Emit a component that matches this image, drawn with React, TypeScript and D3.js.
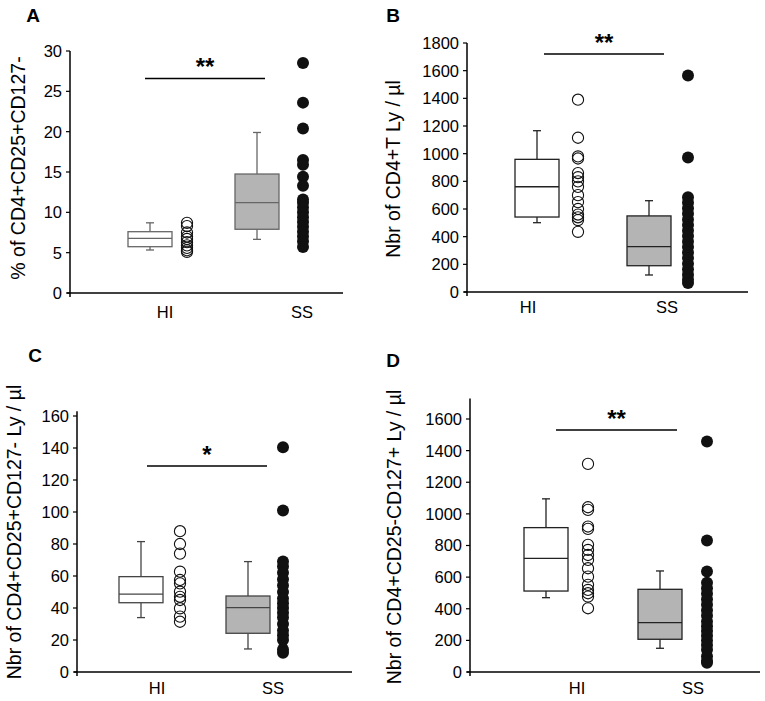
import React from "react";
import * as d3 from "d3";

const categories = ["HI", "SS"];

// Panel A: % of CD4+CD25+CD127-
const aTicks = [0, 5, 10, 15, 20, 25, 30];
const aHiDots = [8.7, 8.3, 7.5, 7.0, 6.7, 6.3, 5.9, 5.6, 5.3, 5.1];
const aSsDots = [28.5, 23.6, 20.4, 16.5, 15.9, 14.4, 13.3, 11.6, 11.2, 10.6, 10.0, 9.4, 8.8, 8.2, 7.6, 7.0, 6.4, 5.7];
const aHiBox = [5.33, 5.74, 6.78, 7.6, 8.7]; // low whisker, q1, median, q3, high whisker
const aSsBox = [6.65, 7.9, 11.2, 14.75, 19.9];
const aSig = { label: "**", level: 26.6 };

// Panel B: Nbr of CD4+T Ly / µl
const bTicks = [0, 200, 400, 600, 800, 1000, 1200, 1400, 1600, 1800];
const bHiDots = [1390, 1115, 980, 965, 860, 830, 800, 760, 700, 650, 600, 560, 540, 520, 435];
const bSsDots = [1565, 972, 685, 645, 605, 565, 525, 485, 445, 405, 365, 325, 285, 245, 205, 165, 125, 90, 65];
const bHiBox = [501, 542, 761, 959, 1166];
const bSsBox = [123, 190, 328, 550, 660];
const bSig = { label: "**", level: 1721 };

// Panel C: Nbr of CD4+CD25+CD127- Ly / µl
const cTicks = [0, 20, 40, 60, 80, 100, 120, 140, 160];
const cHiDots = [88, 80, 74, 62.7, 57.5, 55.4, 50.2, 47, 45, 39.8, 34.6, 31.4];
const cSsDots = [140.5, 101, 69, 66, 62, 58, 54, 50, 46, 43, 40, 37, 34, 30, 26, 23, 20, 14, 12];
const cHiBox = [34, 43.3, 48.7, 59.6, 81.5];
const cSsBox = [14.4, 24.2, 40.2, 47.5, 69];
const cSig = { label: "*", level: 128.7 };

// Panel D: Nbr of CD4+CD25-CD127+ Ly / µl
const dTicks = [0, 200, 400, 600, 800, 1000, 1200, 1400, 1600];
const dHiDots = [1316, 1042, 1025, 920, 905, 804, 772, 740, 709, 656, 603, 551, 519, 498, 477, 403];
const dSsDots = [1458, 831, 635, 565, 530, 495, 460, 425, 390, 355, 320, 290, 260, 230, 200, 170, 140, 100, 70, 58];
const dHiBox = [470, 512, 719, 913, 1095];
const dSsBox = [150, 207, 312, 523, 639];
const dSig = { label: "**", level: 1531 };

const FONT = "'Liberation Sans', Arial, Helvetica, sans-serif";

type PanelProps = {
  letter: string;
  letterPos: [number, number];
  title: string;
  titlePos: [number, number];
  axisX: number;
  yRange: [number, number];
  yMax: number;
  axisMax: number;
  xEnd: number;
  ticks: number[];
  labelX: [number, number];
  boxX: [number, number];
  dotX: [number, number];
  labelY: number;
  sigX: [number, number];
  hiDots: number[];
  ssDots: number[];
  hiBox: number[];
  ssBox: number[];
  sig: { label: string; level: number };
  boxStroke: string;
};

function Panel(p: PanelProps) {
  const y = d3.scaleLinear().domain([0, p.yMax]).range(p.yRange);
  const labelScale = d3.scalePoint<string>().domain(categories).range(p.labelX);
  const boxScale = d3.scalePoint<string>().domain(categories).range(p.boxX);
  const dotScale = d3.scalePoint<string>().domain(categories).range(p.dotX);
  const boxW = 44;
  const capW = 8;
  const boxes = [
    { cat: "HI", stats: p.hiBox, fill: "#ffffff" },
    { cat: "SS", stats: p.ssBox, fill: "#b4b4b4" },
  ];
  const dots = [
    { cat: "HI", vals: p.hiDots, filled: false },
    { cat: "SS", vals: p.ssDots, filled: true },
  ];
  return (
    <g fontFamily={FONT}>
      <text x={p.letterPos[0]} y={p.letterPos[1]} fontSize={19} fontWeight="bold" textAnchor="middle">
        {p.letter}
      </text>
      <text
        transform={`translate(${p.titlePos[0]},${p.titlePos[1]}) rotate(-90)`}
        fontSize={19.5}
        textAnchor="middle"
      >
        {p.title}
      </text>
      {/* axes */}
      <line x1={p.axisX} x2={p.axisX} y1={y(p.axisMax)} y2={y(0) + 4} stroke="#000" strokeWidth={1.5} />
      <line x1={p.axisX - 3} x2={p.xEnd} y1={y(0)} y2={y(0)} stroke="#000" strokeWidth={1.5} />
      {p.ticks.map((t) => (
        <g key={t}>
          <line x1={p.axisX - 4} x2={p.axisX} y1={y(t)} y2={y(t)} stroke="#000" strokeWidth={1.2} />
          <text x={p.axisX - 8} y={y(t)} dy="0.36em" fontSize={16.5} textAnchor="end">
            {t}
          </text>
        </g>
      ))}
      {categories.map((c) => (
        <text key={c} x={labelScale(c)} y={p.labelY} fontSize={16.5} textAnchor="middle">
          {c}
        </text>
      ))}
      {/* boxes */}
      {boxes.map((b) => {
        const cx = boxScale(b.cat) as number;
        const [lo, q1, med, q3, hi] = b.stats;
        return (
          <g key={b.cat} stroke={p.boxStroke} strokeWidth={1.3}>
            <line x1={cx} x2={cx} y1={y(hi)} y2={y(q3)} />
            <line x1={cx} x2={cx} y1={y(q1)} y2={y(lo)} />
            <line x1={cx - capW / 2} x2={cx + capW / 2} y1={y(hi)} y2={y(hi)} />
            <line x1={cx - capW / 2} x2={cx + capW / 2} y1={y(lo)} y2={y(lo)} />
            <rect x={cx - boxW / 2} y={y(q3)} width={boxW} height={y(q1) - y(q3)} fill={b.fill} />
            <line x1={cx - boxW / 2} x2={cx + boxW / 2} y1={y(med)} y2={y(med)} />
          </g>
        );
      })}
      {/* dots */}
      {dots.map((d) =>
        d.vals.map((v, i) => (
          <circle
            key={d.cat + i}
            cx={dotScale(d.cat)}
            cy={y(v)}
            r={d.filled ? 6 : 5.6}
            fill={d.filled ? "#111" : "none"}
            stroke="#111"
            strokeWidth={d.filled ? 0 : 1.1}
          />
        ))
      )}
      {/* significance */}
      <line x1={p.sigX[0]} x2={p.sigX[1]} y1={y(p.sig.level)} y2={y(p.sig.level)} stroke="#000" strokeWidth={1.5} />
      <text
        x={(p.sigX[0] + p.sigX[1]) / 2}
        y={y(p.sig.level) - 3}
        fontSize={24}
        fontWeight="bold"
        textAnchor="middle"
      >
        {p.sig.label}
      </text>
    </g>
  );
}

export default function App() {
  return (
    <svg
      width={765}
      height={701}
      viewBox="0 0 765 701"
      style={{ position: "absolute", left: 0, top: 0, background: "#fff" }}
    >
      <rect width={765} height={701} fill="#fff" />
      <Panel
        letter="A"
        letterPos={[33, 22]}
        title="% of CD4+CD25+CD127-"
        titlePos={[25, 168]}
        axisX={70}
        yRange={[293, 51]}
        yMax={30}
        axisMax={30}
        xEnd={343}
        ticks={aTicks}
        labelX={[165, 302]}
        boxX={[150, 257]}
        dotX={[187, 303]}
        labelY={318}
        sigX={[145, 265]}
        hiDots={aHiDots}
        ssDots={aSsDots}
        hiBox={aHiBox}
        ssBox={aSsBox}
        sig={aSig}
        boxStroke="#666"
      />
      <Panel
        letter="B"
        letterPos={[393, 22]}
        title="Nbr of CD4+T Ly / µl"
        titlePos={[400, 169]}
        axisX={467}
        yRange={[292, 43]}
        yMax={1800}
        axisMax={1800}
        xEnd={748}
        ticks={bTicks}
        labelX={[528, 667]}
        boxX={[537, 649]}
        dotX={[578, 688]}
        labelY={313}
        sigX={[544, 664]}
        hiDots={bHiDots}
        ssDots={bSsDots}
        hiBox={bHiBox}
        ssBox={bSsBox}
        sig={bSig}
        boxStroke="#222"
      />
      <Panel
        letter="C"
        letterPos={[35, 362]}
        title="Nbr of CD4+CD25+CD127- Ly / µl"
        titlePos={[21, 532]}
        axisX={77}
        yRange={[672, 416]}
        yMax={160}
        axisMax={163}
        xEnd={352}
        ticks={cTicks}
        labelX={[157, 273]}
        boxX={[141, 248]}
        dotX={[180, 283]}
        labelY={694}
        sigX={[147, 267]}
        hiDots={cHiDots}
        ssDots={cSsDots}
        hiBox={cHiBox}
        ssBox={cSsBox}
        sig={cSig}
        boxStroke="#444"
      />
      <Panel
        letter="D"
        letterPos={[393, 367]}
        title="Nbr of CD4+CD25-CD127+ Ly / µl"
        titlePos={[401, 537]}
        axisX={470}
        yRange={[672, 419]}
        yMax={1600}
        axisMax={1730}
        xEnd={760}
        ticks={dTicks}
        labelX={[577, 693]}
        boxX={[546, 660]}
        dotX={[588, 707]}
        labelY={694}
        sigX={[556, 677]}
        hiDots={dHiDots}
        ssDots={dSsDots}
        hiBox={dHiBox}
        ssBox={dSsBox}
        sig={dSig}
        boxStroke="#222"
      />
    </svg>
  );
}
